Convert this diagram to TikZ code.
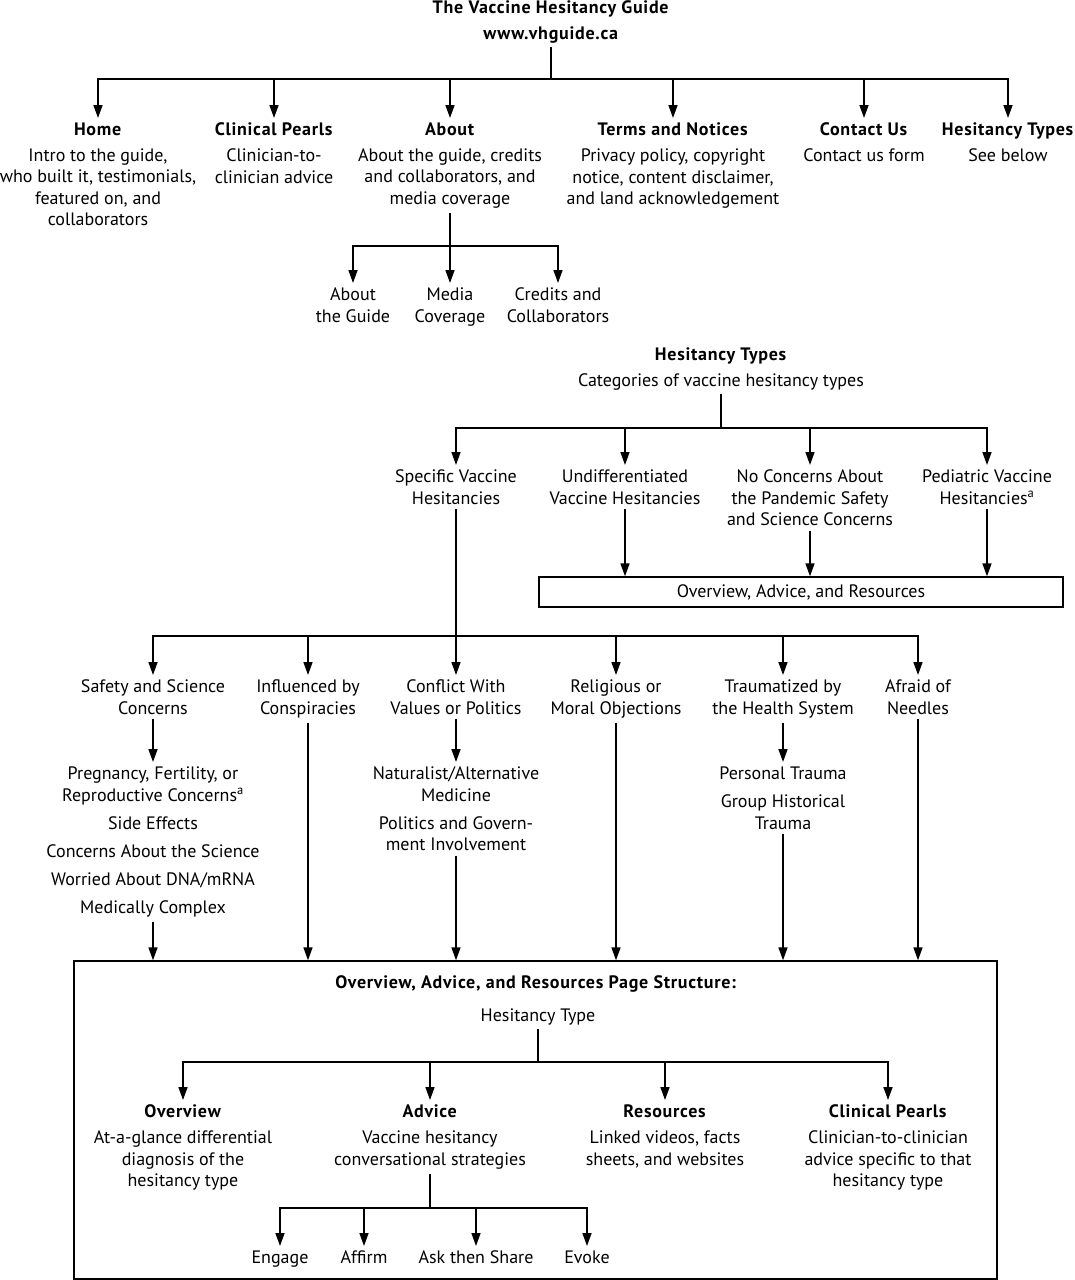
\documentclass[tikz,border=0pt]{standalone}
\usepackage{fontspec}
\setmainfont{PT Sans}[BoldFeatures={LetterSpace=4}]
\usetikzlibrary{arrows.meta, calc}
\tikzset{
    arr/.style = {-{Triangle[length=13pt,width=9pt]}},
    item/.style = {align=center, anchor=north, inner sep=4pt},
    boxed/.style = {draw, line width=1.4pt, inner sep=0pt},
}
\newcommand{\gap}{\\[6.5pt]}

\begin{document}
\begin{tikzpicture}[x=1pt,y=-1pt,line width=1.6pt,
    every node/.style={font=\fontsize{18}{21.5}\selectfont}]
\useasboundingbox (0,0) rectangle (1074,1280);

% site map
\node[align=center] (guide) at (551,22) {\textbf{The Vaccine Hesitancy Guide}\\[4.5pt]\textbf{www.vhguide.ca}};
\coordinate (b1) at (551,79);
\node[item] (home) at (98,118) {\textbf{Home}\\[4.5pt]Intro to the guide,\\who built it, testimonials,\\featured on, and\\collaborators};
\node[item] (cpearls) at (274,118) {\textbf{Clinical Pearls}\\[4.5pt]Clinician-to-\\clinician advice};
\node[item] (about) at (450,118) {\textbf{About}\\[4.5pt]About the guide, credits\\and collaborators, and\\media coverage};
\node[item] (terms) at (673,118) {\textbf{Terms and Notices}\\[4.5pt]Privacy policy, copyright\\notice, content disclaimer,\\and land acknowledgement};
\node[item] (contact) at (864,118) {\textbf{Contact Us}\\[4.5pt]Contact us form};
\node[item] (types) at (1008,118) {\textbf{Hesitancy Types}\\[4.5pt]See below};

\draw (guide.south) -- (b1);
\foreach \n in {home,cpearls,about,terms,contact,types}
    \draw[arr] (b1) -| (\n.north);

% about pages
\coordinate (b2) at (450,246);
\node[item] (aguide) at (353,283) {About\\the Guide};
\node[item] (media) at (450,283) {Media\\Coverage};
\node[item] (credits) at (558,283) {Credits and\\Collaborators};
\draw (about.south) -- (b2);
\foreach \n in {aguide,media,credits}
    \draw[arr] (b2) -| (\n.north);

% hesitancy types
\node[align=center] (htsec) at (721,369) {\textbf{Hesitancy Types}\\[4.5pt]Categories of vaccine hesitancy types};
\coordinate (b3) at (721,428);
\node[item] (spec) at (456,465) {Specific Vaccine\\Hesitancies};
\node[item] (undiff) at (625,465) {Undifferentiated\\Vaccine Hesitancies};
\node[item] (nocon) at (810,465) {No Concerns About\\the Pandemic Safety\\and Science Concerns};
\node[item] (pedi) at (987,465) {Pediatric Vaccine\\Hesitancies\textsuperscript{a}};
\draw (htsec.south) -- (b3);
\foreach \n in {spec,undiff,nocon,pedi}
    \draw[arr] (b3) -| (\n.north);

\node[boxed,minimum width=524pt,minimum height=30pt] (oar) at (801,592) {Overview, Advice, and Resources};
\foreach \n in {undiff,nocon,pedi}
    \draw[arr] (\n.south) -- (\n.south |- oar.north);

% specific hesitancies
\coordinate (b4) at (456,636);
\node[item] (safety) at (153,675) {Safety and Science\\Concerns};
\node[item] (consp) at (308,675) {Influenced by\\Conspiracies};
\node[item] (conflict) at (456,675) {Conflict With\\Values or Politics};
\node[item] (relig) at (616,675) {Religious or\\Moral Objections};
\node[item] (trauma) at (783,675) {Traumatized by\\the Health System};
\node[item] (needles) at (918,675) {Afraid of\\Needles};
\draw (spec.south) -- (b4);
\foreach \n in {safety,consp,conflict,relig,trauma,needles}
    \draw[arr] (b4) -| (\n.north);

\node[item] (safelist) at (153,762) {Pregnancy, Fertility, or\\Reproductive Concerns\textsuperscript{a}\gap Side Effects\gap Concerns About the Science\gap Worried About DNA/mRNA\gap Medically Complex};
\node[item] (conflist) at (456,762) {Naturalist/Alternative\\Medicine\gap Politics and Govern-\\ment Involvement};
\node[item] (traulist) at (783,762) {Personal Trauma\gap Group Historical\\Trauma};
\draw[arr] (safety.south) -- (safelist.north);
\draw[arr] (conflict.south) -- (conflist.north);
\draw[arr] (trauma.south) -- (traulist.north);

% page structure
\node[boxed,minimum width=923pt,minimum height=318pt] (page) at (535.5,1120) {};
\foreach \n in {safelist,consp,conflist,relig,traulist,needles}
    \draw[arr] (\n.south) -- (\n.south |- page.north);

\node (ptitle) at (536,984) {\textbf{Overview, Advice, and Resources Page Structure:}};
\node (htype) at (538,1017) {Hesitancy Type};
\coordinate (b5) at (538,1062);
\node[item] (overview) at (183,1100) {\textbf{Overview}\\[4.5pt]At-a-glance differential\\diagnosis of the\\hesitancy type};
\node[item] (advice) at (430,1100) {\textbf{Advice}\\[4.5pt]Vaccine hesitancy\\conversational strategies};
\node[item] (resources) at (665,1100) {\textbf{Resources}\\[4.5pt]Linked videos, facts\\sheets, and websites};
\node[item] (clinpearls) at (888,1100) {\textbf{Clinical Pearls}\\[4.5pt]Clinician-to-clinician\\advice specific to that\\hesitancy type};
\draw (htype.south) -- (b5);
\foreach \n in {overview,advice,resources,clinpearls}
    \draw[arr] (b5) -| (\n.north);

\coordinate (b6) at (430,1208);
\node[item] (engage) at (280,1246) {Engage};
\node[item] (affirm) at (364,1246) {Affirm};
\node[item] (askshare) at (476,1246) {Ask then Share};
\node[item] (evoke) at (587,1246) {Evoke};
\draw (advice.south) -- (b6);
\foreach \n in {engage,affirm,askshare,evoke}
    \draw[arr] (b6) -| (\n.north);

\end{tikzpicture}
\end{document}
